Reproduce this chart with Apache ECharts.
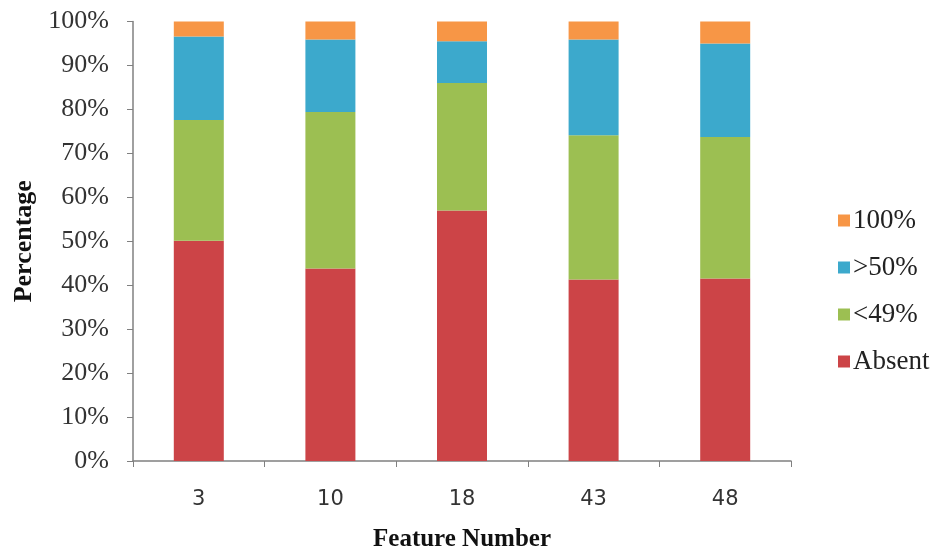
<!DOCTYPE html>
<html>
<head>
<meta charset="utf-8">
<script src="https://cdn.jsdelivr.net/npm/echarts@6/dist/echarts.min.js"></script>
<style>html,body{margin:0;padding:0;background:#fff}#c{width:937px;height:550px}</style>
</head>
<body>
<div id="c"></div>
<script>
const categories = ['3', '10', '18', '43', '48'];
const absent = [50.1, 43.8, 57.0, 41.3, 41.5];
const below49 = [27.5, 35.6, 29.0, 32.8, 32.2];
const above50 = [19.0, 16.5, 9.5, 21.8, 21.3];
const full100 = [3.4, 4.1, 4.5, 4.1, 5.0];
const yTicks = [0, 10, 20, 30, 40, 50, 60, 70, 80, 90, 100];

const seriesNames = ['Absent', '<49%', '>50%', '100%'];
const seriesData = [absent, below49, above50, full100];
const colors = ['#CC4447', '#9CBF52', '#3CA9CC', '#F79646'];

const chart = echarts.init(document.getElementById('c'), null, {renderer: 'canvas'});
chart.setOption({
  animation: false,
  backgroundColor: '#ffffff',
  grid: {left: 133, right: 146, top: 21.5, bottom: 89, containLabel: false, outerBoundsMode: 'none'},
  legend: {
    orient: 'vertical',
    left: 833,
    top: 202,
    itemWidth: 12,
    itemHeight: 12,
    itemGap: 20,
    icon: 'rect',
    data: ['100%', '>50%', '<49%', 'Absent'],
    textStyle: {fontFamily: 'Liberation Serif', fontSize: 27, color: '#222', lineHeight: 26, padding: [0, 0, 0, -2]}
  },
  xAxis: {
    type: 'category',
    data: categories,
    name: 'Feature Number',
    nameLocation: 'middle',
    nameGap: 66,
    nameTextStyle: {fontFamily: 'Liberation Serif', fontWeight: 'bold', fontSize: 25, color: '#111'},
    axisLine: {lineStyle: {color: '#808080', width: 1.5}},
    axisTick: {show: true, length: 6, lineStyle: {color: '#808080'}, alignWithLabel: false},
    axisLabel: {fontFamily: 'DejaVu Sans', fontSize: 21, color: '#333', margin: 28}
  },
  yAxis: {
    type: 'value',
    min: yTicks[0],
    max: yTicks[yTicks.length - 1],
    interval: 10,
    name: 'Percentage',
    nameLocation: 'middle',
    nameGap: 96,
    nameRotate: 90,
    nameTextStyle: {fontFamily: 'Liberation Serif', fontWeight: 'bold', fontSize: 26, color: '#111'},
    axisLine: {show: true, lineStyle: {color: '#808080', width: 1.5}},
    axisTick: {show: true, length: 6, lineStyle: {color: '#808080'}},
    splitLine: {show: false},
    axisLabel: {fontFamily: 'Liberation Serif', fontSize: 26, color: '#333', margin: 24, formatter: '{value}%'}
  },
  series: seriesNames.map((n, i) => ({
    name: n,
    type: 'bar',
    stack: 'total',
    barWidth: 50,
    data: seriesData[i],
    itemStyle: {color: colors[i]}
  }))
});
</script>
</body>
</html>
